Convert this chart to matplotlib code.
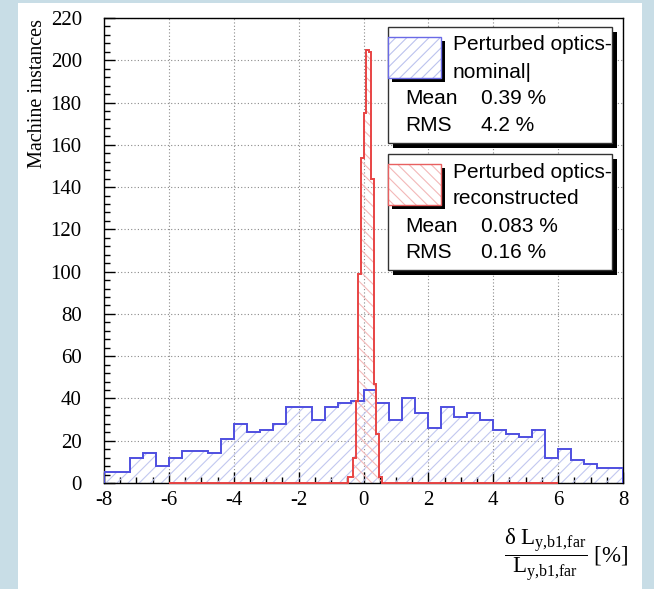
import matplotlib
matplotlib.use('Agg')
import matplotlib.pyplot as plt
from matplotlib.patches import Rectangle
from matplotlib.ticker import MultipleLocator
import numpy as np

# perturbed optics, nominal: 40 bins from -8 to 8
blue_range = (-8.0, 8.0)
blue_counts = [5, 5, 12, 14, 8, 12, 15, 15, 14, 21,
               28, 24, 25, 28, 36, 36, 30, 36, 38, 39,
               44, 38, 30, 40, 33, 26, 36, 31, 33, 30,
               25, 23, 22, 25, 12, 16, 11, 9, 7, 7]

# perturbed optics, reconstructed: 150 bins from -6 to 6, only the peak is filled
red_range = (-6.0, 6.0)
red_nbins = 150
red_peak_start = -0.48
red_peak_counts = [3, 3, 12, 39, 99, 154, 175, 205, 204, 144, 47, 23, 3]

stats_nominal = [("Mean", "0.39 %"), ("RMS", "4.2 %")]
stats_reco = [("Mean", "0.083 %"), ("RMS", "0.16 %")]

blue_edges = np.linspace(blue_range[0], blue_range[1], len(blue_counts) + 1)
red_edges = np.linspace(red_range[0], red_range[1], red_nbins + 1)
red_counts = np.zeros(red_nbins)
i0 = int(round((red_peak_start - red_range[0]) / (red_edges[1] - red_edges[0])))
red_counts[i0:i0 + len(red_peak_counts)] = red_peak_counts

plt.rcParams['font.family'] = ['Liberation Serif']
plt.rcParams['mathtext.fontset'] = 'custom'
plt.rcParams['mathtext.rm'] = 'Liberation Serif'
plt.rcParams['mathtext.it'] = 'Liberation Serif'
plt.rcParams['axes.unicode_minus'] = False
plt.rcParams['hatch.linewidth'] = 0.8

W, H = 654, 589
fig = plt.figure(figsize=(W / 100, H / 100), dpi=100, facecolor='#c8dde6')
fig.add_artist(Rectangle((18 / W, 0), (642 - 18) / W, 1 - 3 / H, transform=fig.transFigure,
                         facecolor='white', edgecolor='none', zorder=0))

ax = fig.add_axes([104 / W, 1 - 483 / H, (623 - 104) / W, (483 - 18) / H])

ax.stairs(blue_counts, blue_edges, fill=True, facecolor='none', edgecolor='#c2c8f0',
          hatch='///', linewidth=0, zorder=1)
ax.stairs(red_counts, red_edges, fill=True, facecolor='none', edgecolor='#f3baba',
          hatch='\\\\\\', linewidth=0, zorder=1.5)
ax.stairs(blue_counts, blue_edges, color='#4f4fe0', linewidth=1.4, zorder=3)
ax.stairs(red_counts, red_edges, color='#e84444', linewidth=1.4, zorder=4, clip_on=False)

ax.set_xlim(-8, 8)
ax.set_ylim(0, 220)
ax.xaxis.set_major_locator(MultipleLocator(2))
ax.xaxis.set_minor_locator(MultipleLocator(0.5))
ax.yaxis.set_major_locator(MultipleLocator(20))
ax.yaxis.set_minor_locator(MultipleLocator(4))
ax.grid(True, which='major', color='#8a8a8a', linestyle=(0, (1, 2)), linewidth=0.8)
ax.set_axisbelow(True)
ax.tick_params(which='both', direction='in', top=False, right=False, width=1)
ax.tick_params(which='major', length=8, labelsize=15)
ax.tick_params(which='minor', length=4)
ax.tick_params(axis='y', which='major', pad=16)
ax.tick_params(axis='x', which='major', pad=6)
for s in ax.spines.values():
    s.set_linewidth(1)

fig.text(38 / W, 1 - 19 / H, 'Machine instances', rotation=90, ha='center', va='top', fontsize=14.5)
fig.text(628 / W, 1 - 555 / H,
         r'$\dfrac{\mathrm{\delta\ L_{y{,}b1{,}far}}}{\mathrm{L_{y{,}b1{,}far}}}$ [%]',
         ha='right', va='center', fontsize=16.5)


def px_rect(x0, y0, x1, y1, **kw):
    fig.add_artist(Rectangle((x0 / W, 1 - y1 / H), (x1 - x0) / W, (y1 - y0) / H,
                             transform=fig.transFigure, **kw))


def stat_box(top, line_color, hatch_color, hatch, title, stats):
    px_rect(393, top + 5, 617, top + 121, facecolor='black', edgecolor='none', zorder=5)
    px_rect(388, top, 612, top + 116, facecolor='white', edgecolor='#333333', linewidth=1, zorder=6)
    px_rect(392, top + 14, 445, top + 55, facecolor='black', edgecolor='none', zorder=7)
    px_rect(388, top + 10, 441, top + 51, facecolor='white', edgecolor='none', zorder=7.5)
    px_rect(388, top + 10, 441, top + 51, facecolor='none', edgecolor=hatch_color, hatch=hatch,
            linewidth=0, zorder=8)
    px_rect(388, top + 10, 441, top + 51, facecolor='none', edgecolor=line_color, linewidth=1, zorder=8.5)
    for k, line in enumerate(title):
        fig.text(453 / W, 1 - (top + 18 + 27 * k) / H, line, ha='left', va='center',
                 fontsize=15, family='Liberation Sans', zorder=9)
    for k, (name, val) in enumerate(stats):
        y = top + 72 + 26.5 * k
        fig.text(405 / W, 1 - y / H, name, ha='left', va='center', fontsize=15,
                 family='Liberation Sans', zorder=9)
        fig.text(481 / W, 1 - y / H, val, ha='left', va='center', fontsize=15,
                 family='Liberation Sans', zorder=9)


stat_box(27, '#6a6ae6', '#bcc3ee', '///', ['Perturbed optics-', 'nominal|'], stats_nominal)
stat_box(154, '#e86060', '#f3b8b8', '\\\\\\', ['Perturbed optics-', 'reconstructed'], stats_reco)

fig.savefig('out.png', dpi=100, facecolor=fig.get_facecolor())
